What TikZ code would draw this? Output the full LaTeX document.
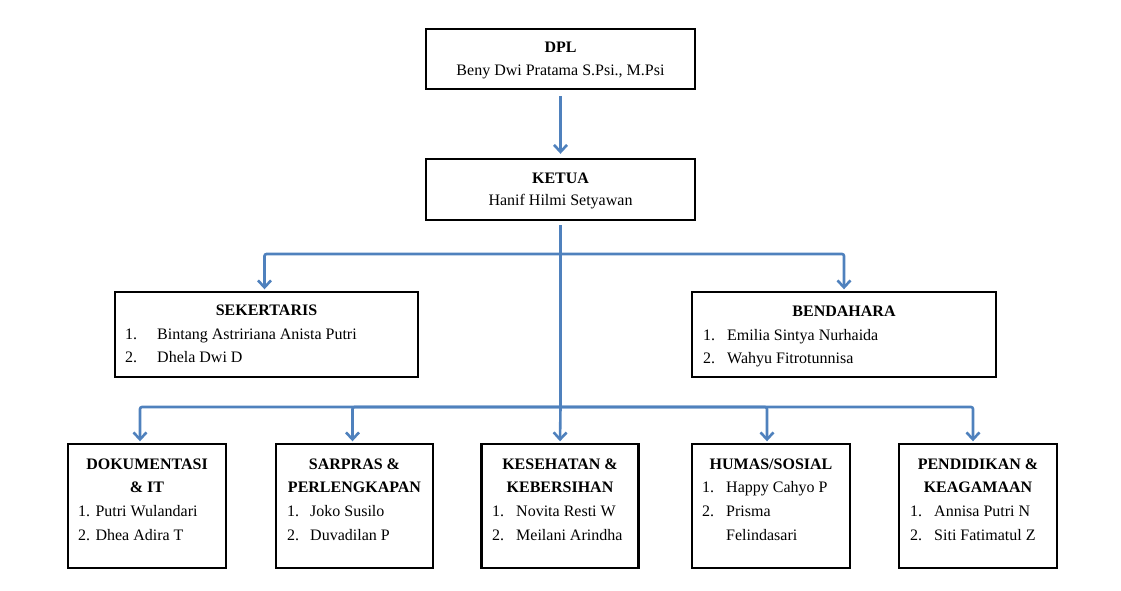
\documentclass[tikz,border=0pt]{standalone}
\usepackage{fontspec}
\setmainfont{Liberation Serif}
\usetikzlibrary{arrows.meta}
\definecolor{linkblue}{HTML}{4F81BD}
\begin{document}
\begin{tikzpicture}[x=1pt,y=-1pt,
  orgbox/.style={draw=black, line width=2.4pt, inner sep=0pt},
  ttl/.style={font=\fontsize{16}{19}\selectfont\bfseries, anchor=base, inner sep=0pt},
  nm/.style={font=\fontsize{16}{19}\selectfont, anchor=base, inner sep=0pt},
  txt/.style={font=\fontsize{16}{19}\selectfont, anchor=base west, inner sep=0pt},
  link/.style={draw=linkblue, line width=2.6pt},
  arr/.style={link, -{Straight Barb[length=7pt,width=13pt,line width=2.6pt]}, rounded corners=2pt, shorten >=1.5pt}]
\useasboundingbox (0,0) rectangle (1121,591);

% boxes
\node[orgbox, minimum width=269pt, minimum height=60pt] (dpl) at (560.5,59) {};
\node[orgbox, minimum width=269pt, minimum height=61pt] (ketua) at (560.5,189.5) {};
\node[orgbox, minimum width=303pt, minimum height=85pt] (sek) at (266.5,334.5) {};
\node[orgbox, minimum width=304pt, minimum height=85pt] (ben) at (844,334.5) {};
\node[orgbox, minimum width=158pt, minimum height=124pt] (dok) at (147,506) {};
\node[orgbox, minimum width=157pt, minimum height=124pt] (sar) at (354.5,506) {};
\node[orgbox, minimum width=157pt, minimum height=124pt] (kes) at (560,506) {};
\node[orgbox, minimum width=158pt, minimum height=124pt] (hum) at (771,506) {};
\node[orgbox, minimum width=158pt, minimum height=124pt] (pen) at (978,506) {};

% connectors
\coordinate (j1) at (560.5,254);
\coordinate (j2) at (560.5,407);
\draw[arr, shorten <=6pt, shorten >=4pt] (dpl.south) -- (ketua.north);
\draw[link, shorten <=4pt] (ketua.south) -- (j2);
\draw[arr] (j1) -| ([xshift=-2pt]sek.north);
\draw[arr] (j1) -| (ben.north);
\draw[arr] (j2) -| ([xshift=-7pt]dok.north);
\draw[arr] (j2) -| ([xshift=-2pt]sar.north);
\draw[arr] (j2) -- (kes.north);
\draw[arr] (j2) -| ([xshift=-4pt]hum.north);
\draw[arr] (j2) -| ([xshift=-5pt]pen.north);

% DPL
\node[ttl] (dplT) at (560.5,52.3) {DPL};
\node[nm] (dplN) at (560.5,76) {Beny Dwi Pratama S.Psi., M.Psi};
% KETUA
\node[ttl] (ketT) at (560.5,183.3) {KETUA};
\node[nm] (ketN) at (560.5,205) {Hanif Hilmi Setyawan};
% SEKERTARIS
\node[ttl] (sekT) at (266.5,315) {SEKERTARIS};
\node[txt] (sek1n) at (125,339) {1.};
\node[txt] (sek1) at (157,339) {Bintang Astririana Anista Putri};
\node[txt] (sek2n) at (125,362.7) {2.};
\node[txt] (sek2) at (157,362.7) {Dhela Dwi D};
% BENDAHARA
\node[ttl] (benT) at (844,316) {BENDAHARA};
\node[txt] (ben1n) at (703,340) {1.};
\node[txt] (ben1) at (727,340) {Emilia Sintya Nurhaida};
\node[txt] (ben2n) at (703,363) {2.};
\node[txt] (ben2) at (727,363) {Wahyu Fitrotunnisa};
% DOKUMENTASI
\node[ttl] (dokT1) at (147,469) {DOKUMENTASI};
\node[ttl] (dokT2) at (147,492.7) {\& IT};
\node[txt] (dok1) at (78,516) {1. Putri Wulandari};
\node[txt] (dok2) at (78,540) {2. Dhea Adira T};
% SARPRAS
\node[ttl] (sarT1) at (354.5,469) {SARPRAS \&};
\node[ttl] (sarT2) at (354.5,492.7) {PERLENGKAPAN};
\node[txt] (sar1n) at (287,516) {1.};
\node[txt] (sar1) at (310,516) {Joko Susilo};
\node[txt] (sar2n) at (287,540) {2.};
\node[txt] (sar2) at (310,540) {Duvadilan P};
% KESEHATAN
\node[ttl] (kesT1) at (560,469) {KESEHATAN \&};
\node[ttl] (kesT2) at (560,492.7) {KEBERSIHAN};
\node[txt] (kes1n) at (492,516.5) {1.};
\node[txt] (kes1) at (516,516.5) {Novita Resti W};
\node[txt] (kes2n) at (492,540.5) {2.};
\node[txt] (kes2) at (516,540.5) {Meilani Arindha};
% HUMAS
\node[ttl] (humT) at (771,469) {HUMAS/SOSIAL};
\node[txt] (hum1n) at (702,492.7) {1.};
\node[txt] (hum1) at (726,492.7) {Happy Cahyo P};
\node[txt] (hum2n) at (702,516.5) {2.};
\node[txt] (hum2) at (726,516.5) {Prisma};
\node[txt] (hum3) at (726,540) {Felindasari};
% PENDIDIKAN
\node[ttl] (penT1) at (978,469) {PENDIDIKAN \&};
\node[ttl] (penT2) at (978,492.7) {KEAGAMAAN};
\node[txt] (pen1n) at (910,516) {1.};
\node[txt] (pen1) at (934,516) {Annisa Putri N};
\node[txt] (pen2n) at (910,540) {2.};
\node[txt] (pen2) at (934,540) {Siti Fatimatul Z};
\end{tikzpicture}
\end{document}
